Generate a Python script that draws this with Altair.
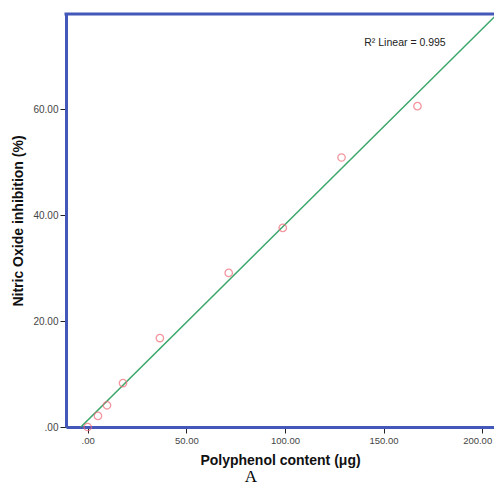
import altair as alt
import pandas as pd

# Data
polyphenol = [0.0, 5.2, 9.8, 17.9, 36.6, 71.5, 98.9, 128.7, 167.2]
inhibition = [0.0, 2.1, 4.1, 8.3, 16.8, 29.1, 37.6, 50.9, 60.6]
x_ticks = [0, 50, 100, 150, 200]
y_ticks = [0, 20, 40, 60]
r2_label = "R\u00b2 Linear = 0.995"
panel_label = "A"

df = pd.DataFrame({"x": polyphenol, "y": inhibition})

W, H = 428, 413
BLUE = "#4358b9"
xscale = alt.Scale(domain=[-11, 206.0], nice=False, zero=False)
yscale = alt.Scale(domain=[0, 78], nice=False, zero=False)
fmt = "datum.value == 0 ? '.00' : format(datum.value, '.2f')"

base = alt.Chart(df)

points = base.mark_point(shape="circle", filled=False, color="#f06a78",
                         size=55, strokeWidth=1.3).encode(
    x=alt.X("x:Q", scale=xscale,
            axis=alt.Axis(values=x_ticks, labelExpr=fmt, grid=False,
                          title="Polyphenol content (\u03bcg)",
                          domainColor=BLUE, domainWidth=3,
                          tickColor="#222", tickSize=6, tickWidth=1,
                          labelFont="Liberation Sans", labelFontSize=9.5,
                          labelColor="#444", labelPadding=2,
                          labelOffset={"condition": {"test": "datum.value == 200", "value": -5},
                                       "value": 0},
                          titleFont="Liberation Sans", titleFontSize=14,
                          titleFontWeight="bold", titleColor="#111",
                          titlePadding=9)),
    y=alt.Y("y:Q", scale=yscale,
            axis=alt.Axis(values=y_ticks, labelExpr=fmt, grid=False,
                          title="Nitric Oxide inhibition (%)",
                          domainColor=BLUE, domainWidth=3,
                          tickColor="#222", tickSize=6, tickWidth=1,
                          labelFont="Liberation Sans", labelFontSize=10,
                          labelColor="#444", labelPadding=2,
                          titleFont="Liberation Sans", titleFontSize=14,
                          titleFontWeight="bold", titleColor="#111",
                          titlePadding=7)),
)

line = base.transform_regression("x", "y", extent=[-4, 212]).mark_line(
    color="#3aa66a", strokeWidth=1.5, clip=True).encode(
    x=alt.X("x:Q", scale=xscale), y=alt.Y("y:Q", scale=yscale))

top = alt.Chart(pd.DataFrame({"v": [0]})).mark_rule(color=BLUE, strokeWidth=3).encode(
    x=alt.value(-1.5), x2=alt.value(W), y=alt.value(0))

r2 = alt.Chart(pd.DataFrame({"t": [r2_label]})).mark_text(
    font="Liberation Sans", fontSize=10.5, color="#222").encode(
    text="t:N", x=alt.value(339), y=alt.value(29))

lbl = alt.Chart(pd.DataFrame({"t": [panel_label]})).mark_text(
    font="Liberation Serif", fontSize=17, color="#000", baseline="bottom").encode(
    text="t:N", x=alt.value(185), y=alt.value(472))

chart = alt.layer(line, points, top, r2, lbl).properties(
    width=W, height=H,
    autosize=alt.AutoSizeParams(type="none"),
    padding={"left": 58, "top": 6, "right": 0, "bottom": 60},
).configure_view(stroke=None)

chart.save("out.html", embed_options={"renderer": "svg", "actions": False})
